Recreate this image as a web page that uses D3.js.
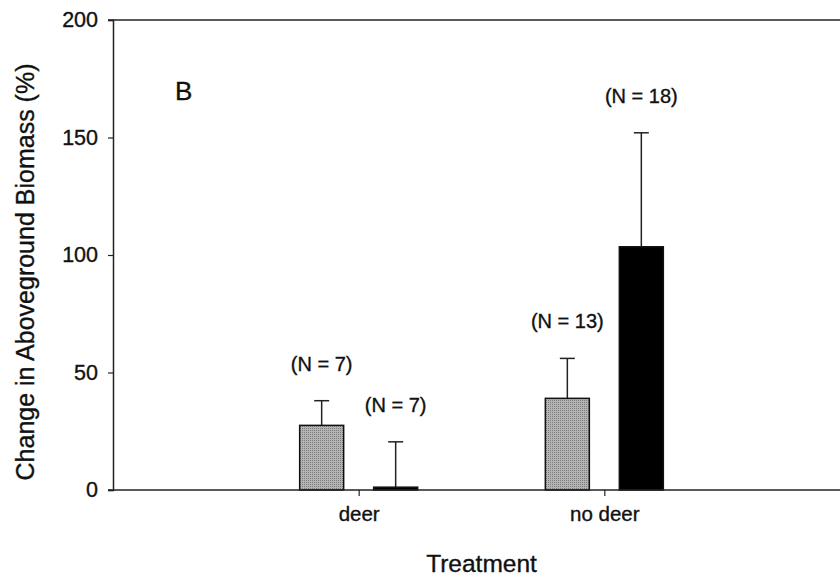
<!DOCTYPE html>
<html>
<head>
<meta charset="utf-8">
<script src="https://cdn.jsdelivr.net/npm/d3@7"></script>
<style>
  html, body { margin: 0; padding: 0; background: #fff; }
  svg { display: block; font-family: "Liberation Sans", Arial, sans-serif; }
  svg text { stroke: #111; stroke-width: 0.35px; }
</style>
</head>
<body>
<svg id="chart" width="840" height="577"></svg>
<script>
// Treatment groups and the two bars drawn in each
const categories = ["deer", "no deer"];
const meanGray  = [27.5, 39];     // stippled bars
const errGray   = [38, 56];       // upper end of error bar
const meanBlack = [1.2, 103.5];   // solid bars
const errBlack  = [20.5, 152];
const nGray  = ["(N = 7)", "(N = 13)"];
const nBlack = ["(N = 7)", "(N = 18)"];
const yTicks = [0, 50, 100, 150, 200];

const svg = d3.select("#chart");
const W = 840;
const plotLeft = 113, plotTop = 20, plotBottom = 490, plotRight = 850;

const x = d3.scaleLinear().domain([0, 3]).range([plotLeft, plotRight]);
const y = d3.scaleLinear().domain([0, 200]).range([plotBottom, plotTop]);

// stipple fill for the gray bars
const defs = svg.append("defs");
const pat = defs.append("pattern").attr("id", "stipple")
  .attr("patternUnits", "userSpaceOnUse").attr("width", 2).attr("height", 2);
pat.append("rect").attr("width", 2).attr("height", 2).attr("fill", "#b4b4b4");
pat.append("rect").attr("width", 1).attr("height", 1).attr("fill", "#7c7c7c");

const barW = 44, offset = 37;

// build bar records
const bars = [];
categories.forEach((c, i) => {
  bars.push({ cat: i + 1, dx: -offset, v: meanGray[i], e: errGray[i], n: nGray[i], fill: "url(#stipple)" });
  bars.push({ cat: i + 1, dx: offset, v: meanBlack[i], e: errBlack[i], n: nBlack[i], fill: "#000" });
});

const g = svg.append("g");

// error bars (upper only)
g.selectAll("line.err").data(bars).join("line")
  .attr("x1", d => x(d.cat) + d.dx).attr("x2", d => x(d.cat) + d.dx)
  .attr("y1", d => y(d.v)).attr("y2", d => y(d.e))
  .attr("stroke", "#222").attr("stroke-width", 1.5);
g.selectAll("line.cap").data(bars).join("line")
  .attr("x1", d => x(d.cat) + d.dx - 7.5).attr("x2", d => x(d.cat) + d.dx + 7.5)
  .attr("y1", d => y(d.e)).attr("y2", d => y(d.e))
  .attr("stroke", "#222").attr("stroke-width", 1.5);

// bars
g.selectAll("rect.bar").data(bars).join("rect")
  .attr("x", d => x(d.cat) + d.dx - barW / 2)
  .attr("width", barW)
  .attr("y", d => y(d.v))
  .attr("height", d => y(0) - y(d.v))
  .attr("fill", d => d.fill)
  .attr("stroke", "#111").attr("stroke-width", 1.5);

// sample-size labels
g.selectAll("text.n").data(bars).join("text")
  .attr("x", d => x(d.cat) + d.dx)
  .attr("y", d => y(d.e) - 30)
  .attr("text-anchor", "middle")
  .attr("font-size", 20)
  .attr("fill", "#111")
  .text(d => d.n);

// top frame line across the whole width
svg.append("line").attr("x1", plotLeft - 5).attr("x2", W).attr("y1", plotTop).attr("y2", plotTop)
  .attr("stroke", "#222").attr("stroke-width", 1.5);

// y axis
const yAxis = svg.append("g").attr("transform", `translate(${plotLeft},0)`)
  .call(d3.axisLeft(y).tickValues(yTicks).tickSize(5).tickPadding(10));
yAxis.select(".domain").attr("stroke", "#222").attr("stroke-width", 1.5);
yAxis.selectAll(".tick line").attr("stroke", "#222").attr("stroke-width", 1.2);
yAxis.selectAll(".tick text").attr("font-size", 21.5).attr("fill", "#111")
  .attr("font-family", "Liberation Sans, Arial, sans-serif");

// x axis
const xAxis = svg.append("g").attr("transform", `translate(0,${plotBottom})`)
  .call(d3.axisBottom(x).tickValues([1, 2]).tickFormat((d) => categories[d - 1]).tickSize(6).tickPadding(10));
xAxis.select(".domain").remove();
xAxis.selectAll(".tick line").attr("stroke", "#222").attr("stroke-width", 1.2);
xAxis.selectAll(".tick text").attr("font-size", 20.5).attr("fill", "#111")
  .attr("font-family", "Liberation Sans, Arial, sans-serif");
svg.append("line").attr("x1", plotLeft - 5).attr("x2", W).attr("y1", plotBottom).attr("y2", plotBottom)
  .attr("stroke", "#222").attr("stroke-width", 1.5);

// axis titles
svg.append("text")
  .attr("x", (plotLeft + plotRight) / 2).attr("y", 572)
  .attr("text-anchor", "middle").attr("font-size", 24.5).attr("fill", "#111")
  .text("Treatment");
svg.append("text")
  .attr("transform", `translate(34,272) rotate(-90)`)
  .attr("text-anchor", "middle").attr("font-size", 25).attr("fill", "#111")
  .text("Change in Aboveground Biomass (%)");

// panel letter
svg.append("text").attr("x", 175).attr("y", 100)
  .attr("font-size", 26).attr("fill", "#111").text("B");
</script>
</body>
</html>
